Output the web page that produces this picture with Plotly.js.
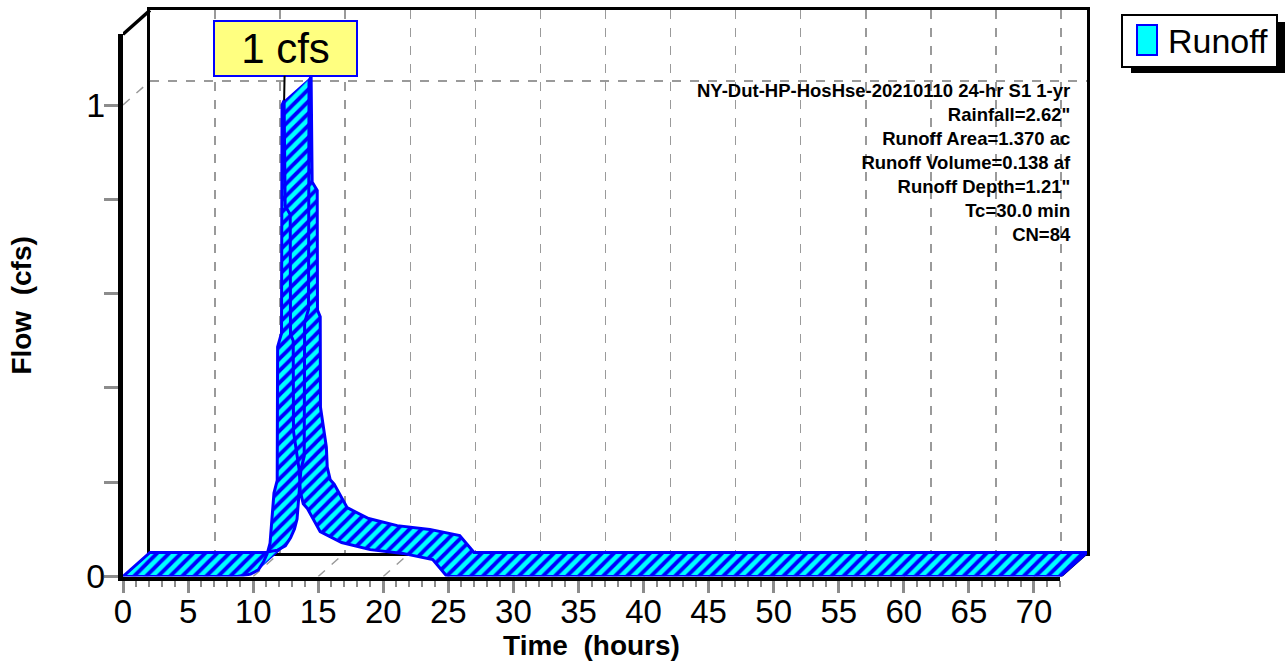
<!DOCTYPE html>
<html><head><meta charset="utf-8">
<script src="https://cdn.plot.ly/plotly-3.0.1.min.js"></script>
<style>html,body{margin:0;padding:0;background:#fff}#chart{width:1286px;height:666px}</style>
</head><body><div id="chart"></div>
<script>
// ---------------- data ----------------
const timeHours = [0, 8.8, 9.8, 10.4, 10.8, 11.1, 11.3, 11.6, 11.85, 11.88, 12.18, 12.22, 12.38, 12.46, 12.85, 12.87, 13.08, 13.1, 13.55, 13.62, 13.85, 14.15, 15.15, 16.8, 19.0, 21.5, 23.8, 24.3, 24.9, 72];
const flowCfs   = [0, 0, 0.005, 0.014, 0.031, 0.05, 0.071, 0.177, 0.204, 0.487, 0.516, 1.0, 1.01, 0.786, 0.768, 0.514, 0.5, 0.308, 0.224, 0.181, 0.154, 0.145, 0.095, 0.072, 0.057, 0.049, 0.036, 0.02, 0, 0];
const xTickVals = [0, 5, 10, 15, 20, 25, 30, 35, 40, 45, 50, 55, 60, 65, 70];
const xTickText = ['0', '5', '10', '15', '20', '25', '30', '35', '40', '45', '50', '55', '60', '65', '70'];
const yTickVals = [0, 0.2, 0.4, 0.6, 0.8, 1];
const yTickText = ['0', '', '', '', '', '1'];
const yGridVals = [1];
const seriesName = 'Runoff';
const peakLabel = '1 cfs';
const infoLines = ['NY-Dut-HP-HosHse-20210110 24-hr S1 1-yr', 'Rainfall=2.62"', 'Runoff Area=1.370 ac', 'Runoff Volume=0.138 af', 'Runoff Depth=1.21"', 'Tc=30.0 min', 'CN=84'];
const xAxisTitle = 'Time\u00a0 (hours)';
const yAxisTitle = 'Flow\u00a0 (cfs)';
const X_MAX = 72, Y_MAX = 1.15;

// ---------------- geometry (pixels) ----------------
const W = 1286, H = 666;
const FL = 123, FR = 1060, FB = 576.5, FT = 34.3;   // front plane
const DX = 27, DY = 24;                             // depth offset
const pxPerH = (FR - FL) / X_MAX, pxPerQ = (FB - FT) / Y_MAX;
const dT = DX / pxPerH, dQ = DY / pxPerQ;
const fx = p => p / W, fy = p => 1 - p / H;
const FONT = 'Liberation Sans, Arial, sans-serif';
const BLUE = '#0000ff', CYAN = '#00ffff', GRID = '#9a9a9a', TICK = '#8c8c8c';

// ribbon: union of swept quads (consistent orientation)
const ribbonX = [], ribbonY = [];
for (let i = 0; i < timeHours.length - 1; i++) {
  const t0 = timeHours[i], q0 = flowCfs[i], t1 = timeHours[i + 1], q1 = flowCfs[i + 1];
  const cross = (t1 - t0) * dQ - (q1 - q0) * dT;
  if (Math.abs(cross) < 1e-12) continue;
  const pts = [[t0, q0], [t1, q1], [t1 + dT, q1 + dQ], [t0 + dT, q0 + dQ]];
  if (cross < 0) pts.reverse();
  pts.forEach(p => { ribbonX.push(p[0]); ribbonY.push(p[1]); });
  ribbonX.push(null); ribbonY.push(null);
}
const rev = a => a.slice().reverse();
const outlineX = [...timeHours, ...rev(timeHours).map(t => t + dT), timeHours[0]];
const outlineY = [...flowCfs, ...rev(flowCfs).map(q => q + dQ), flowCfs[0]];

const floorX = [], floorY = [];
xTickVals.forEach(t => { floorX.push(t, t + dT, null); floorY.push(0, dQ, null); });

let peakIdx = 0;
flowCfs.forEach((q, i) => { if (q > flowCfs[peakIdx]) peakIdx = i; });

const traces = [
  {type: 'scatter', mode: 'none', x: [0], y: [0], xaxis: 'x', yaxis: 'y', showlegend: false, hoverinfo: 'skip'},
  {type: 'scatter', mode: 'lines', x: floorX, y: floorY, xaxis: 'x2', yaxis: 'y2',
   line: {color: GRID, width: 1.5, dash: 'dash'}, showlegend: false, hoverinfo: 'skip'},
  {type: 'scatter', mode: 'lines', x: [0, dT], y: [yGridVals[0], yGridVals[0] + dQ], xaxis: 'x2', yaxis: 'y2',
   line: {color: GRID, width: 1.5, dash: 'dash'}, showlegend: false, hoverinfo: 'skip'},
  {type: 'scatter', mode: 'lines', x: [0, dT, null, X_MAX, X_MAX + dT], y: [Y_MAX, Y_MAX + dQ, null, 0, dQ],
   xaxis: 'x2', yaxis: 'y2', line: {color: '#000', width: 3.5}, showlegend: false, hoverinfo: 'skip'},
  {type: 'scatter', mode: 'lines', name: seriesName, x: ribbonX, y: ribbonY, xaxis: 'x2', yaxis: 'y2',
   fill: 'toself', fillcolor: CYAN, line: {width: 0, color: BLUE},
   fillpattern: {shape: '/', size: 8.5, solidity: 0.45, fgcolor: BLUE, bgcolor: CYAN, fillmode: 'replace'},
   showlegend: false, hoverinfo: 'skip'},
  {type: 'scatter', mode: 'lines', x: outlineX, y: outlineY, xaxis: 'x2', yaxis: 'y2',
   line: {color: BLUE, width: 3}, showlegend: false, hoverinfo: 'skip'},
  {type: 'scatter', mode: 'none', x: [0], y: [0], xaxis: 'x3', yaxis: 'y3', showlegend: false, hoverinfo: 'skip'}
];

const backCommon = {showline: true, mirror: true, linecolor: '#000', linewidth: 3, ticks: '',
  showticklabels: false, zeroline: false, showgrid: true, gridcolor: GRID, gridwidth: 1.5, griddash: 'dash', fixedrange: true};

const layout = {
  width: W, height: H, margin: {l: 0, r: 0, t: 0, b: 0},
  paper_bgcolor: '#ffffff', plot_bgcolor: 'rgba(0,0,0,0)',
  font: {family: FONT, color: '#000'},
  showlegend: false, hovermode: false,
  xaxis: Object.assign({}, backCommon, {domain: [fx(FL + DX), fx(FR + DX)], range: [0, X_MAX], anchor: 'y', tick0: 0, dtick: 5}),
  yaxis: Object.assign({}, backCommon, {domain: [fy(FB - DY), fy(FT - DY)], range: [0, Y_MAX], anchor: 'x', tickmode: 'array', tickvals: yGridVals}),
  xaxis2: {domain: [fx(FL), fx(FR + DX)], range: [0, X_MAX + dT], anchor: 'y2', visible: false, fixedrange: true},
  yaxis2: {domain: [fy(FB), fy(FT - DY)], range: [0, Y_MAX + dQ], anchor: 'x2', visible: false, fixedrange: true},
  xaxis3: {domain: [fx(FL), fx(FR)], range: [0, X_MAX], anchor: 'y3', showgrid: false, zeroline: false,
    showline: true, linecolor: '#000', linewidth: 4,
    tickmode: 'array', tickvals: xTickVals, ticktext: xTickText, ticks: 'outside', ticklen: 12, tickwidth: 3, tickcolor: TICK,
    minor: {dtick: 1, tick0: 0, ticks: 'outside', ticklen: 6, tickwidth: 2, tickcolor: TICK, showgrid: false},
    tickfont: {size: 33, family: FONT, color: '#000'}, ticklabelstandoff: -9,
    title: {text: '<b>' + xAxisTitle + '</b>', font: {size: 28, family: FONT, color: '#000'}, standoff: 6}, fixedrange: true},
  yaxis3: {domain: [fy(FB), fy(FT)], range: [0, Y_MAX], anchor: 'x3', showgrid: false, zeroline: false,
    showline: true, linecolor: '#000', linewidth: 5,
    tickmode: 'array', tickvals: yTickVals, ticktext: yTickText, ticks: 'outside', ticklen: 14, tickwidth: 3, tickcolor: TICK,
    tickfont: {size: 34, family: FONT, color: '#000'}, ticklabelstandoff: -8,
    title: {text: '<b>' + yAxisTitle + '</b>', font: {size: 28, family: FONT, color: '#000'}, standoff: 48}, fixedrange: true},
  shapes: [
    {type: 'rect', xref: 'paper', yref: 'paper', x0: fx(1131), x1: fx(1285), y0: fy(73), y1: fy(22), fillcolor: '#000', line: {width: 0}},
    {type: 'rect', xref: 'paper', yref: 'paper', x0: fx(1122), x1: fx(1277), y0: fy(67), y1: fy(15), fillcolor: '#fff', line: {color: '#000', width: 2}},
    {type: 'rect', xref: 'paper', yref: 'paper', x0: fx(1137), x1: fx(1157), y0: fy(55), y1: fy(25), fillcolor: CYAN, line: {color: BLUE, width: 2}}
  ],
  annotations: [
    {xref: 'x2', yref: 'y2', x: timeHours[peakIdx], y: flowCfs[peakIdx], text: peakLabel, showarrow: true,
     arrowhead: 0, arrowwidth: 2, arrowcolor: '#000', ax: 1, ay: -52, standoff: 0,
     bgcolor: '#ffff80', bordercolor: BLUE, borderwidth: 2, borderpad: 0, width: 141, height: 53,
     font: {size: 42, family: FONT, color: '#000'}},
    {xref: 'paper', yref: 'paper', x: fx(1073), y: fy(162.5), xanchor: 'right', yanchor: 'middle', align: 'right',
     showarrow: false, text: infoLines.map(s => '<b>' + s + '</b>').join('<br>'), font: {size: 18.5, family: FONT, color: '#000'}},
    {xref: 'paper', yref: 'paper', x: fx(1166), y: fy(41), xanchor: 'left', yanchor: 'middle', showarrow: false,
     text: seriesName, font: {size: 34, family: FONT, color: '#000'}}
  ]
};

Plotly.newPlot('chart', traces, layout, {staticPlot: true, displayModeBar: false});
</script>
</body></html>
